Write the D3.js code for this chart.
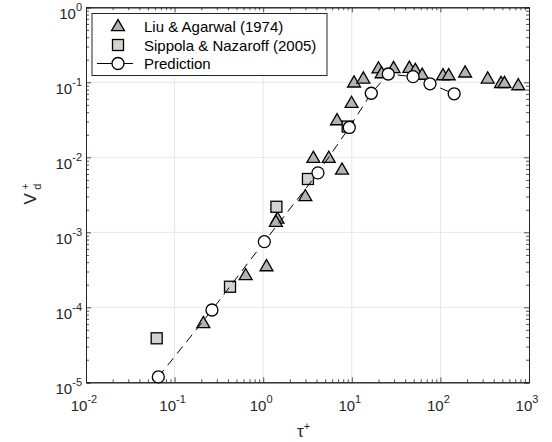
<!DOCTYPE html>
<html><head><meta charset="utf-8">
<script src="https://cdn.jsdelivr.net/npm/d3@7"></script>
<style>body{margin:0;background:#fff}svg{display:block;font-family:"Liberation Sans",Arial,Helvetica,sans-serif}</style>
</head><body>
<script>
const predTau = [0.0655, 0.264, 1.03, 4.15, 9.37, 16.6, 25.8, 49.1, 76.3, 143];
const predVd  = [1.18e-5, 9.2e-5, 7.5e-4, 6.2e-3, 0.025, 0.0714, 0.129, 0.119, 0.0955, 0.0703];
const liuTau = [0.211, 0.634, 1.09, 1.45, 1.39, 2.99, 3.68, 5.49, 7.75, 6.81, 9.93, 10.6, 13.5, 20.0, 21.7, 29.6, 44.6, 52.1, 62.3, 107, 124, 190, 342, 483, 529, 757];
const liuVd  = [6.2e-5, 2.7e-4, 3.55e-4, 1.53e-3, 1.39e-3, 3.05e-3, 9.9e-3, 9.9e-3, 6.9e-3, 0.0314, 0.0535, 0.1, 0.113, 0.154, 0.133, 0.156, 0.157, 0.147, 0.127, 0.125, 0.125, 0.136, 0.113, 0.0985, 0.0985, 0.092];
const sipTau = [0.0628, 0.422, 1.41, 3.20, 8.99];
const sipVd  = [3.86e-5, 1.88e-4, 2.19e-3, 5.14e-3, 0.0257];
const xTickExp = [-2, -1, 0, 1, 2, 3];
const yTickExp = [0, -1, -2, -3, -4, -5];
const legendLabels = ["Liu & Agarwal (1974)", "Sippola & Nazaroff (2005)", "Prediction"];

const W = 552, H = 442;
const L = 86, R = 529, T = 7.3, B = 382.3;
const svg = d3.select("body").append("svg").attr("width", W).attr("height", H);
const x = d3.scaleLog().domain([1e-2, 1e3]).range([L, R]);
const y = d3.scaleLog().domain([1e-5, 1]).range([B, T]);
const axisCol = "#262626";

// grid
const gx = xTickExp.map(e => Math.pow(10, e));
const gy = yTickExp.map(e => Math.pow(10, e));
svg.append("g").selectAll("line").data(gx.slice(1, -1)).join("line")
  .attr("x1", d => x(d)).attr("x2", d => x(d)).attr("y1", T).attr("y2", B)
  .attr("stroke", "#e6e6e6").attr("stroke-width", 1);
svg.append("g").selectAll("line").data(gy.slice(1, -1)).join("line")
  .attr("y1", d => y(d)).attr("y2", d => y(d)).attr("x1", L).attr("x2", R)
  .attr("stroke", "#e6e6e6").attr("stroke-width", 1);

// axes with inward ticks on all sides
function logTicks(dom) {
  const out = [];
  for (let e = Math.log10(dom[0]); e < Math.log10(dom[1]); e++)
    for (let m = 2; m <= 9; m++) out.push(m * Math.pow(10, e));
  return out;
}
const axB = d3.axisBottom(x).tickValues(gx).tickSize(-5).tickFormat("");
const axT = d3.axisTop(x).tickValues(gx).tickSize(-5).tickFormat("");
const axL = d3.axisLeft(y).tickValues(gy).tickSize(-5).tickFormat("");
const axR = d3.axisRight(y).tickValues(gy).tickSize(-5).tickFormat("");
const mB = d3.axisBottom(x).tickValues(logTicks(x.domain())).tickSize(-3).tickFormat("");
const mT = d3.axisTop(x).tickValues(logTicks(x.domain())).tickSize(-3).tickFormat("");
const mL = d3.axisLeft(y).tickValues(logTicks(y.domain())).tickSize(-3).tickFormat("");
const mR = d3.axisRight(y).tickValues(logTicks(y.domain())).tickSize(-3).tickFormat("");
function place(ax, tr) {
  const g = svg.append("g").attr("transform", tr).call(ax);
  g.selectAll("path").attr("stroke", axisCol).attr("stroke-width", 1);
  g.selectAll("line").attr("stroke", axisCol).attr("stroke-width", 0.8);
  return g;
}
place(mB, `translate(0,${B})`); place(mT, `translate(0,${T})`);
place(mL, `translate(${L},0)`); place(mR, `translate(${R},0)`);
place(axB, `translate(0,${B})`); place(axT, `translate(0,${T})`);
place(axL, `translate(${L},0)`); place(axR, `translate(${R},0)`);

// tick labels
const xl = svg.append("g").attr("fill", axisCol).attr("font-size", 15);
xTickExp.forEach(e => {
  const t = xl.append("text").attr("x", x(Math.pow(10, e)) - 2).attr("y", B + 29).attr("text-anchor", "middle");
  t.append("tspan").text("10");
  t.append("tspan").attr("dy", -8).attr("font-size", 11).text(e < 0 ? "-" + (-e) : String(e));
});
const yl = svg.append("g").attr("fill", axisCol).attr("font-size", 15);
yTickExp.forEach(e => {
  const t = yl.append("text").attr("x", L - 4).attr("y", y(Math.pow(10, e)) + 12).attr("text-anchor", "end");
  t.append("tspan").text("10");
  t.append("tspan").attr("dy", -8).attr("font-size", 11).text(e < 0 ? "-" + (-e) : String(e));
});

// axis labels
const xlab = svg.append("text").attr("x", (L + R) / 2 - 4).attr("y", 437).attr("text-anchor", "middle")
  .attr("font-size", 17).attr("fill", axisCol);
xlab.append("tspan").text("τ");
xlab.append("tspan").attr("dy", -7).attr("font-size", 11).text("+");
const ylab = svg.append("g").attr("transform", `translate(36,${(T + B) / 2}) rotate(-90)`).attr("fill", axisCol);
ylab.append("text").attr("x", -4).attr("y", 0).attr("text-anchor", "middle").attr("font-size", 17).text("V");
ylab.append("text").attr("x", 5).attr("y", -7).attr("font-size", 11).text("+");
ylab.append("text").attr("x", 5).attr("y", 5).attr("font-size", 11).text("d");

// markers
const triFill = "#b3b3b3", sqFill = "#d5d2cc";
const tri = d3.symbol().type(d3.symbolTriangle).size(72)();
const liu = liuTau.map((t, i) => [t, liuVd[i]]);
const sip = sipTau.map((t, i) => [t, sipVd[i]]);
const pred = predTau.map((t, i) => [t, predVd[i]]);

svg.append("g").selectAll("path").data(liu).join("path")
  .attr("d", tri).attr("transform", d => `translate(${x(d[0])},${y(d[1]) + 1})`)
  .attr("fill", triFill).attr("stroke", "#000").attr("stroke-width", 1.3);
svg.append("g").selectAll("rect").data(sip).join("rect")
  .attr("x", d => x(d[0]) - 5.5).attr("y", d => y(d[1]) - 5.5).attr("width", 11).attr("height", 11)
  .attr("fill", sqFill).attr("stroke", "#000").attr("stroke-width", 1.3);
svg.append("path").datum(pred)
  .attr("d", d3.line().x(d => x(d[0])).y(d => y(d[1])))
  .attr("fill", "none").attr("stroke", "#000").attr("stroke-width", 1).attr("stroke-dasharray", "9,6");
svg.append("g").selectAll("circle").data(pred).join("circle")
  .attr("cx", d => x(d[0])).attr("cy", d => y(d[1])).attr("r", 6)
  .attr("fill", "#fff").attr("stroke", "#000").attr("stroke-width", 1.3);

// legend
const lg = svg.append("g");
lg.append("rect").attr("x", 92).attr("y", 13.5).attr("width", 235).attr("height", 62)
  .attr("fill", "#fff").attr("stroke", "#262626").attr("stroke-width", 1);
const ly = [26, 45, 63.5], mx = 118;
lg.append("path").attr("d", tri).attr("transform", `translate(${mx},${ly[0] + 1})`)
  .attr("fill", triFill).attr("stroke", "#000").attr("stroke-width", 1.3);
lg.append("rect").attr("x", mx - 5.5).attr("y", ly[1] - 5.5).attr("width", 11).attr("height", 11)
  .attr("fill", sqFill).attr("stroke", "#000").attr("stroke-width", 1.3);
lg.append("line").attr("x1", 97).attr("x2", 133).attr("y1", ly[2]).attr("y2", ly[2]).attr("stroke", "#000").attr("stroke-width", 1);
lg.append("circle").attr("cx", mx).attr("cy", ly[2]).attr("r", 6).attr("fill", "#fff").attr("stroke", "#000").attr("stroke-width", 1.3);
legendLabels.forEach((s, i) => {
  lg.append("text").attr("x", 144).attr("y", ly[i] + 5.5).attr("font-size", 15).attr("fill", "#000").text(s);
});
</script>
</body></html>
